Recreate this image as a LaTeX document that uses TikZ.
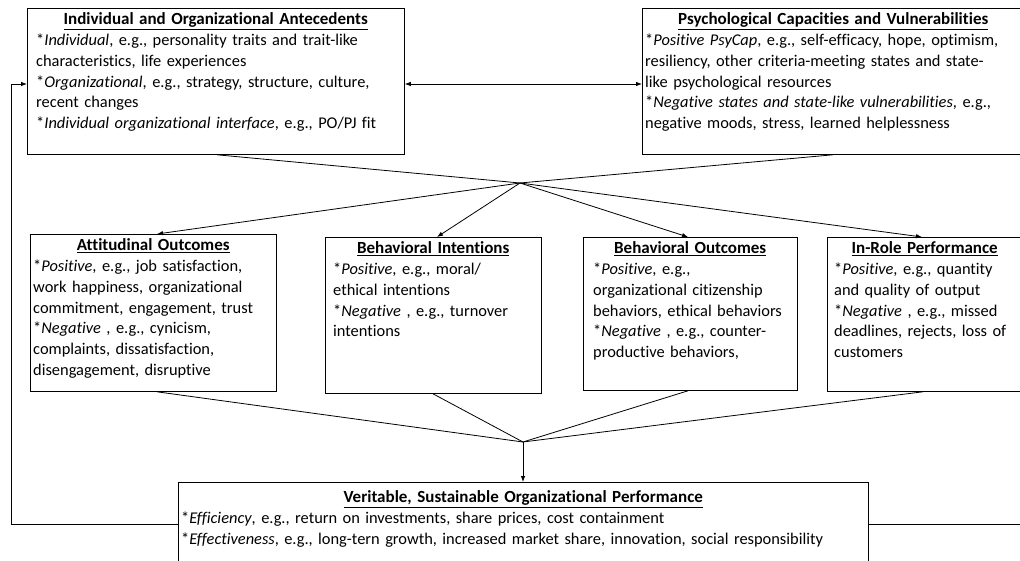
\documentclass[tikz,border=0pt]{standalone}
\usepackage{fontspec}
\setmainfont{Carlito}[Ligatures=CommonOff]
\usetikzlibrary{arrows.meta,calc}
\newcommand{\ttl}[1]{\makebox[\linewidth]{\fontsize{17}{20.8}\selectfont\underline{\textbf{#1}}}}
\begin{document}
\begin{tikzpicture}[x=1pt,y=-1pt,
  box/.style={draw, line width=0.8pt, inner sep=0pt, anchor=north west},
  txt/.style={inner sep=0pt, anchor=north west, align=left, font=\fontsize{16.4}{20.8}\selectfont},
  conn/.style={line width=0.8pt},
  arr/.style={conn, -{Latex[length=6pt,width=4.5pt]}},
  darr/.style={conn, {Latex[length=6pt,width=4.5pt]}-{Latex[length=6pt,width=4.5pt]}}]
\useasboundingbox (0,0) rectangle (1020,561);
% boxes
\node[box, minimum width=377pt, minimum height=146pt] (b1) at (27,8) {};
\node[box, minimum width=382pt, minimum height=146pt] (b2) at (642,8) {};
\node[box, minimum width=246pt, minimum height=157pt] (att) at (30,234) {};
\node[box, minimum width=216pt, minimum height=156pt] (bi) at (325,237) {};
\node[box, minimum width=214pt, minimum height=153pt] (bo) at (583,237) {};
\node[box, minimum width=195pt, minimum height=154pt] (ir) at (827,237) {};
\node[box, minimum width=690pt, minimum height=100pt] (b5) at (178,482) {};
% texts
\node[txt, text width=359pt] (t1) at (36,12.5) {\ttl{Individual and Organizational Antecedents}\\
{*}\textit{Individual}, e.g., personality traits and trait-like\\
characteristics, life experiences\\
{*}\textit{Organizational}, e.g., strategy, structure, culture,\\
recent changes\\
{*}\textit{Individual organizational interface}, e.g., PO/PJ fit};
\node[txt, text width=376pt] (t2) at (645,12.5) {\ttl{Psychological Capacities and Vulnerabilities}\\
{*}\textit{Positive PsyCap}, e.g., self-efficacy, hope, optimism,\\
resiliency, other criteria-meeting states and state-\\
like psychological resources\\
{*}\textit{Negative states and state-like vulnerabilities}, e.g.,\\
negative moods, stress, learned helplessness};
\node[txt, text width=240pt] (t3) at (33,238.5) {\ttl{Attitudinal Outcomes}\\
{*}\textit{Positive}, e.g., job satisfaction,\\
work happiness, organizational\\
commitment, engagement, trust\\
{*}\textit{Negative} , e.g., cynicism,\\
complaints, dissatisfaction,\\
disengagement, disruptive};
\node[txt, text width=200pt] (t4) at (333,241.5) {\ttl{Behavioral Intentions}\\
{*}\textit{Positive}, e.g., moral/\\
ethical intentions\\
{*}\textit{Negative} , e.g., turnover\\
intentions};
\node[txt, text width=194pt] (t5) at (593,241.5) {\ttl{Behavioral Outcomes}\\
{*}\textit{Positive}, e.g.,\\
organizational citizenship\\
behaviors, ethical behaviors\\
{*}\textit{Negative} , e.g., counter-\\
productive behaviors,};
\node[txt, text width=181pt] (t6) at (834,241.5) {\ttl{In-Role Performance}\\
{*}\textit{Positive}, e.g., quantity\\
and quality of output\\
{*}\textit{Negative} , e.g., missed\\
deadlines, rejects, loss of\\
customers};
\node[txt, text width=684pt] (t7) at (181,490.5) {\ttl{Veritable, Sustainable Organizational Performance}\\
{*}\textit{Efficiency}, e.g., return on investments, share prices, cost containment\\
{*}\textit{Effectiveness}, e.g., long-tern growth, increased market share, innovation, social responsibility};
% junctions
\coordinate (j1) at (520,183);
\coordinate (j2) at (523,442);
\coordinate (fbL) at (11,524);
\coordinate (fbT) at (11,84);
\coordinate (rout) at (1030,524);
% connectors
\draw[darr] (b1.east |- fbT) -- (b2.west |- fbT);
\draw[conn] ([xshift=190pt]b1.south west) -- (j1);
\draw[conn] ([xshift=191pt]b2.south west) -- (j1);
\draw[arr] (j1) -- ([xshift=127pt]att.north west);
\draw[arr] (j1) -- ([xshift=112pt]bi.north west);
\draw[arr] (j1) -- ([xshift=105pt]bo.north west);
\draw[arr] (j1) -- ([xshift=95pt]ir.north west);
\draw[conn] ([xshift=127pt]att.south west) -- (j2);
\draw[conn] ([xshift=108pt]bi.south west) -- (j2);
\draw[conn] ([xshift=105pt]bo.south west) -- (j2);
\draw[conn] ([xshift=96pt]ir.south west) -- (j2);
\draw[arr] (j2) -- (j2 |- b5.north);
\draw[arr] (b5.west |- fbL) -- (fbL) -- (fbT) -- (b1.west |- fbT);
\draw[conn] (b5.east |- rout) -- (rout);
\end{tikzpicture}
\end{document}
